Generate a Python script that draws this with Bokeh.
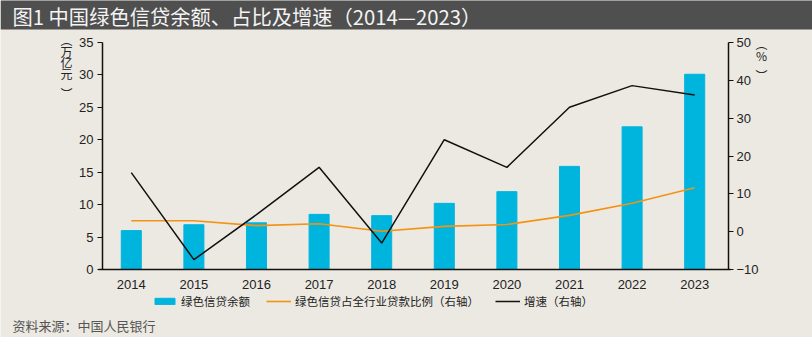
from bokeh.plotting import figure
from bokeh.models import (Range1d, LinearAxis, FixedTicker, SingleIntervalTicker,
                          Label, BoxAnnotation, Legend, LegendItem, ColumnDataSource)
from bokeh.embed import file_html
from bokeh.resources import INLINE

years = [2014, 2015, 2016, 2017, 2018, 2019, 2020, 2021, 2022, 2023]
balance = [6.0, 6.9, 7.2, 8.5, 8.3, 10.2, 12.0, 15.9, 22.0, 30.1]      # 万亿元
share = [2.9, 2.9, 1.6, 2.1, 0.1, 1.4, 1.9, 4.3, 7.5, 11.6]           # % (右轴)
growth = [15.6, -7.4, 4.5, 17.0, -3.0, 24.3, 17.0, 32.9, 38.6, 36.1]  # % (右轴)

title_text = "图1 中国绿色信贷余额、占比及增速（2014—2023）"
source_text = "资料来源：中国人民银行"
legend_labels = ["绿色信贷余额", "绿色信贷占全行业贷款比例（右轴）", "增速（右轴）"]
left_unit = ["万", "亿", "元"]
right_unit = ["%"]
left_axis_range = (0, 35)
right_axis_range = (-10, 50)

BG = "#ECE9E2"
CJK = "Noto Sans CJK SC"
NUM = "Liberation Sans"
TXT = "#222222"

W, H = 812, 337
# plot area in pixels (from top-left): left, right, top, bottom
PL, PR, PT, PB = 102, 728, 42, 269
x_lo, x_hi = years[0] - 0.46, years[-1] + 0.54

def extend(lo, hi, p_lo, p_hi, full):
    # range spanning whole canvas so that [lo, hi] maps onto pixel span [p_lo, p_hi]
    k = (hi - lo) / (p_hi - p_lo)
    return lo - p_lo * k, hi + (full - p_hi) * k

xr = extend(x_lo, x_hi, PL, PR, W)
yr = extend(left_axis_range[0], left_axis_range[1], H - PB, H - PT, H)
rr = extend(right_axis_range[0], right_axis_range[1], H - PB, H - PT, H)

src = ColumnDataSource(dict(year=years, balance=balance, share=share, growth=growth))

p = figure(width=W, height=H, output_backend="svg", toolbar_location=None,
           x_range=Range1d(*xr), y_range=Range1d(*yr),
           x_axis_location=None, y_axis_location=None, min_border=0)
p.extra_y_ranges = {"pct": Range1d(*rr)}
p.background_fill_color = BG
p.border_fill_color = BG
p.outline_line_color = None
p.grid.visible = False

# title bar
p.add_layout(BoxAnnotation(left=0, right=W, bottom=H - 29, top=H + 5,
                           left_units="screen", right_units="screen",
                           bottom_units="screen", top_units="screen",
                           fill_color="#4F4F4F", fill_alpha=1, line_color=None, level="underlay"))
p.add_layout(Label(x=12, y=H - 15, x_units="screen", y_units="screen", text=title_text,
                   text_font=CJK, text_font_size="20.3px", text_color="#F4F4F4",
                   text_baseline="middle"))

bars = p.vbar(x="year", top="balance", width=0.32, source=src, color="#00B5DD")
l1 = p.line(x="year", y="share", source=src, y_range_name="pct", color="#F39213", line_width=1.6)
l2 = p.line(x="year", y="growth", source=src, y_range_name="pct", color="#111111", line_width=1.5)

def style_axis(ax):
    ax.axis_line_color = "#111111"
    ax.axis_line_width = 1.5
    ax.major_tick_line_color = "#111111"
    ax.major_tick_line_width = 1.2
    ax.major_tick_out = 5
    ax.major_tick_in = 0
    ax.minor_tick_line_color = None
    ax.major_label_text_font = NUM
    ax.major_label_text_font_size = "13px"
    ax.major_label_text_color = TXT

xa = LinearAxis(ticker=FixedTicker(ticks=years), fixed_location=left_axis_range[0],
                bounds=(x_lo - 0.07, x_hi + 0.03))
style_axis(xa)
xa.major_tick_line_color = None
xa.major_label_standoff = 5
p.add_layout(xa, "below")

ya = LinearAxis(ticker=SingleIntervalTicker(interval=5), fixed_location=x_lo,
                bounds=left_axis_range)
style_axis(ya)
ya.major_label_standoff = 4
p.add_layout(ya, "left")

ra = LinearAxis(y_range_name="pct", ticker=SingleIntervalTicker(interval=10),
                fixed_location=x_hi, bounds=right_axis_range)
style_axis(ra)
ra.major_label_standoff = 3
ra.major_label_overrides = {-10: "−10"}
p.add_layout(ra, "right")

# unit labels written vertically: vertical-form brackets around stacked characters
def unit_label(text, cx, cy):
    p.add_layout(Label(x=cx, y=H - cy, x_units="screen", y_units="screen", text=text,
                       text_font=CJK, text_font_size="12px", text_color=TXT,
                       text_align="center", text_baseline="middle"))

def vertical_unit(chars, cx, first_center, step):
    unit_label("︵", cx, first_center - step - 1)
    cy = first_center
    for ch in chars:
        unit_label(ch, cx, cy)
        cy += step
    unit_label("︶", cx, cy - step + 20)

vertical_unit(left_unit, 66, 51, 11)
vertical_unit(right_unit, 761, 55, 11)

legend = Legend(items=[LegendItem(label=legend_labels[0], renderers=[bars]),
                       LegendItem(label=legend_labels[1], renderers=[l1]),
                       LegendItem(label=legend_labels[2], renderers=[l2])],
                orientation="horizontal", location=(152, H - 309), padding=0, margin=0,
                spacing=16, label_standoff=4, glyph_width=25, glyph_height=8,
                label_height=14, label_text_font=CJK, label_text_font_size="11.5px",
                label_text_color=TXT, background_fill_alpha=0, border_line_color=None)
p.add_layout(legend, "center")

p.add_layout(Label(x=12, y=H - 325, x_units="screen", y_units="screen", text=source_text,
                   text_font=CJK, text_font_size="13px", text_color="#555555",
                   text_baseline="middle"))

open("out.html", "w").write(file_html(p, INLINE))
